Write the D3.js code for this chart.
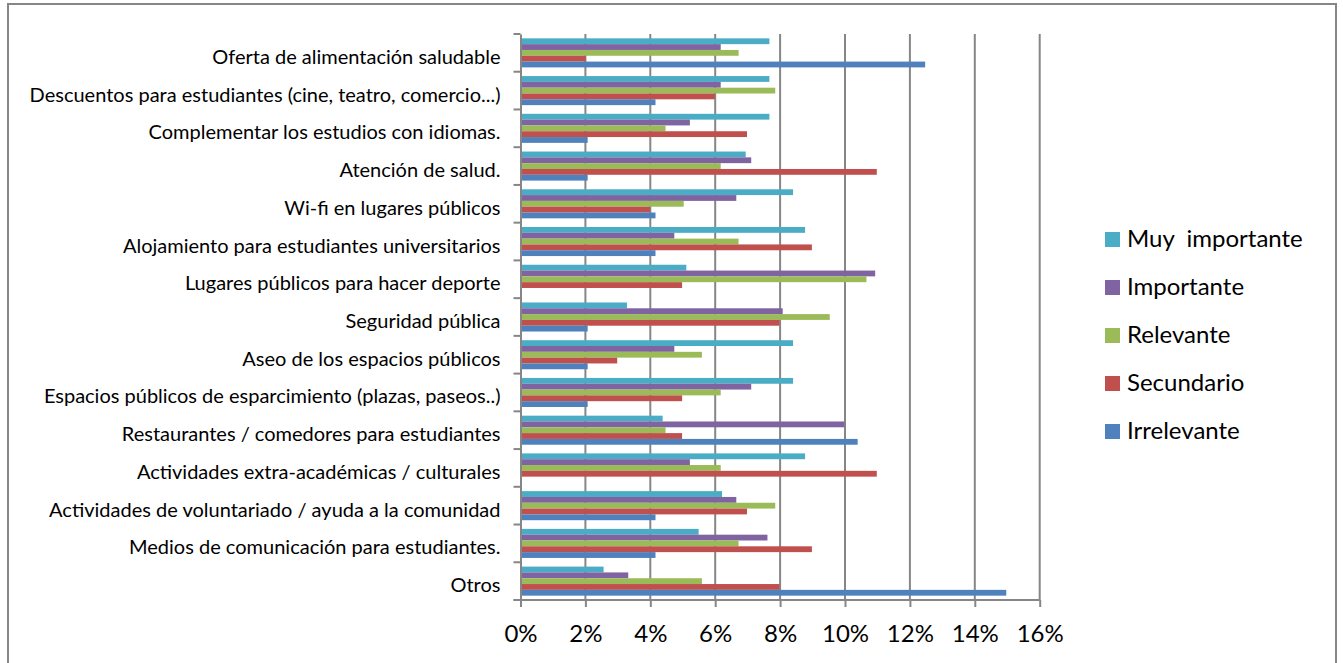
<!DOCTYPE html>
<html>
<head>
<meta charset="utf-8">
<script src="https://cdn.jsdelivr.net/npm/d3@7"></script>
<style>
  html, body { margin: 0; padding: 0; background: #fff; }
  svg { display: block; }
  text { font-family: Lato, "Open Sans", sans-serif; fill: #000; }
</style>
</head>
<body>
<svg id="chart" width="1343" height="663"></svg>
<script>
// Categories, top to bottom
const categories = [
  "Oferta de alimentación saludable",
  "Descuentos para estudiantes (cine, teatro, comercio...)",
  "Complementar los estudios con idiomas.",
  "Atención de salud.",
  "Wi-fi en lugares públicos",
  "Alojamiento para estudiantes universitarios",
  "Lugares públicos para hacer deporte",
  "Seguridad pública",
  "Aseo de los espacios públicos",
  "Espacios públicos de esparcimiento (plazas, paseos..)",
  "Restaurantes / comedores para estudiantes",
  "Actividades extra-académicas / culturales",
  "Actividades de voluntariado / ayuda a la comunidad",
  "Medios de comunicación para estudiantes.",
  "Otros"
];

// Series names (drawn top to bottom inside each group) and values in %
const seriesNames = ["Muy  importante", "Importante", "Relevante", "Secundario", "Irrelevante"];
const muyImportante = [7.67, 7.67, 7.67, 6.94, 8.40, 8.77, 5.11, 3.28, 8.40, 8.40, 4.38, 8.77, 6.21, 5.49, 2.56];
const importante    = [6.17, 6.17, 5.22, 7.11, 6.65, 4.74, 10.93, 8.08, 4.74, 7.11, 9.98, 5.22, 6.65, 7.61, 3.32];
const relevante     = [6.72, 7.85, 4.47, 6.17, 5.03, 6.72, 10.66, 9.53, 5.59, 6.17, 4.47, 6.17, 7.85, 6.72, 5.59];
const secundario    = [2.01, 5.99, 6.98, 10.98, 3.99, 8.98, 4.98, 7.98, 2.98, 4.98, 4.98, 10.98, 6.98, 8.98, 7.98];
const irrelevante   = [12.47, 4.16, 2.07, 2.07, 4.16, 4.16, 0, 2.07, 2.07, 2.07, 10.39, 0, 4.16, 4.16, 14.97];
const seriesValues = [muyImportante, importante, relevante, secundario, irrelevante];
const seriesColors = ["#4BACC6", "#8064A2", "#9BBB59", "#C0504D", "#4F81BD"];

const xTicks = [0, 2, 4, 6, 8, 10, 12, 14, 16];

const svg = d3.select("#chart");
const gridColor = "#868686";

// Outer chart frame
svg.append("path")
  .attr("d", "M8,663 L8,4 L1336,4 L1336,663")
  .attr("fill", "none")
  .attr("stroke", gridColor)
  .attr("stroke-width", 2);

const plot = { left: 520.5, right: 1039.7, top: 34, bottom: 600 };

const x = d3.scaleLinear().domain([0, 16]).range([plot.left, plot.right]);
const y = d3.scaleBand().domain(categories).range([plot.top, plot.bottom]);
const pad = y.step() * 0.115;
const ySub = d3.scaleBand().domain(seriesNames).range([pad, y.step() - pad]);

// Vertical gridlines
svg.append("g")
  .selectAll("line")
  .data(xTicks.slice(1))
  .join("line")
  .attr("x1", d => x(d)).attr("x2", d => x(d))
  .attr("y1", plot.top).attr("y2", plot.bottom)
  .attr("stroke", gridColor)
  .attr("stroke-width", 2);

// Bars
const groups = svg.append("g")
  .selectAll("g")
  .data(categories)
  .join("g")
  .attr("transform", d => `translate(0,${y(d)})`);

groups.selectAll("rect")
  .data((c, i) => seriesNames.map((s, k) => ({ s, v: seriesValues[k][i], color: seriesColors[k] })))
  .join("rect")
  .attr("x", x(0))
  .attr("y", d => ySub(d.s))
  .attr("width", d => x(d.v) - x(0))
  .attr("height", ySub.bandwidth())
  .attr("fill", d => d.color);

// Y axis (category labels)
const yAxis = d3.axisLeft(y).tickSize(0).tickPadding(20);
const yg = svg.append("g").attr("transform", `translate(${plot.left},0)`).call(yAxis);
yg.select(".domain").attr("stroke", gridColor).attr("stroke-width", 2);
yg.selectAll("text")
  .attr("font-size", 20)
  .attr("font-family", "Lato, sans-serif")
  .attr("dy", null)
  .attr("y", 11);
// Tick marks between categories
svg.append("g")
  .selectAll("line")
  .data(d3.range(categories.length + 1))
  .join("line")
  .attr("x1", plot.left - 7).attr("x2", plot.left)
  .attr("y1", i => plot.top + i * y.step()).attr("y2", i => plot.top + i * y.step())
  .attr("stroke", gridColor).attr("stroke-width", 2);

// X axis
const xAxis = d3.axisBottom(x).tickValues(xTicks).tickFormat(d => d + "%").tickSize(7).tickPadding(14);
const xg = svg.append("g").attr("transform", `translate(0,${plot.bottom})`).call(xAxis);
xg.select(".domain").attr("stroke", gridColor).attr("stroke-width", 2).attr("d", `M${plot.left - 7},0H${plot.right}`);
xg.selectAll(".tick line").attr("stroke", gridColor).attr("stroke-width", 2);
xg.selectAll("text")
  .attr("font-size", 24)
  .attr("font-family", "Lato, sans-serif")
  .attr("dy", null)
  .attr("y", 41.7);

// Legend
const legend = svg.append("g").attr("transform", "translate(1105,232)");
const items = legend.selectAll("g")
  .data(seriesNames)
  .join("g")
  .attr("transform", (d, i) => `translate(0,${i * 48})`);
items.append("rect")
  .attr("width", 15).attr("height", 15)
  .attr("fill", (d, i) => seriesColors[i]);
items.append("text")
  .attr("x", 22).attr("y", 15)
  .attr("font-size", 24)
  .style("white-space", "pre")
  .text(d => d);
</script>
</body>
</html>
